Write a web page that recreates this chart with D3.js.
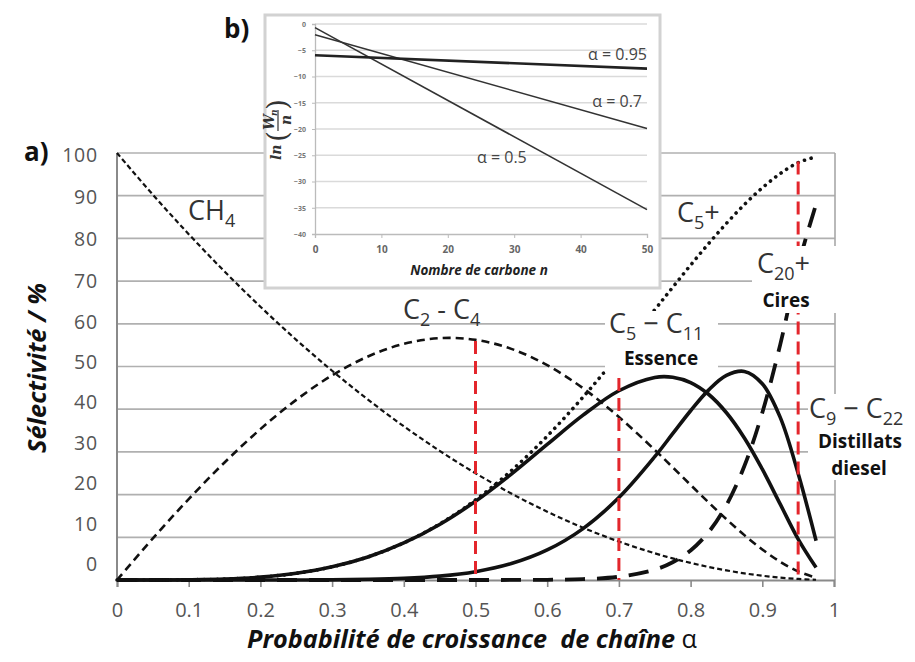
<!DOCTYPE html>
<html><head><meta charset="utf-8">
<script src="https://cdn.jsdelivr.net/npm/d3@7"></script>
<style>
html,body{margin:0;padding:0;background:#fff;}
svg{display:block;font-family:'Open Sans',sans-serif;}
</style></head><body>
<svg id="chart" width="915" height="662"></svg>
<script>
// ---------- data : panel a) selectivity vs chain-growth probability ----------
const alpha   = [0,0.05,0.1,0.15,0.2,0.25,0.3,0.35,0.4,0.45,0.5,0.55,0.6,0.65,0.7,0.75,0.775,0.8,0.825,0.85,0.875,0.9,0.925,0.95,0.975];
const ch4     = [100,90.25,81,72.25,64,56.25,49,42.25,36,30.25,25,20.25,16,12.25,9,6.25,5.06,4,3.06,2.25,1.56,1,0.56,0.25,0.06];
const c2c4    = [0,9.75,18.95,27.53,35.33,42.19,47.92,52.35,55.3,56.63,56.25,54.13,50.3,44.91,38.18,30.47,26.39,22.27,18.18,14.23,10.51,7.15,4.27,2.01,0.53];
const c5plus  = [0,0,0.05,0.22,0.67,1.56,3.08,5.4,8.7,13.12,18.75,25.62,33.7,42.84,52.82,63.28,68.54,73.73,78.75,83.52,87.93,91.85,95.17,97.74,99.1];
const c5c11   = [0,0,0.05,0.22,0.67,1.56,3.08,5.39,8.67,13.01,18.43,24.79,31.74,38.6,44.32,47.44,47.49,46.24,43.5,39.17,33.26,25.95,17.76,9.58,2.9];
const c9c22   = [0,0,0,0,0,0.01,0.04,0.14,0.38,0.91,1.95,3.85,7.04,12.04,19.3,28.87,34.26,39.64,44.47,47.91,48.85,45.97,38.08,24.94,9.2];
const c20plus = [0,0,0,0,0,0,0,0,0,0,0,0.01,0.05,0.21,0.76,2.43,4.16,6.92,11.18,17.56,26.69,39.17,55.13,73.58,88];
const xTicks      = [0,0.1,0.2,0.3,0.4,0.5,0.6,0.7,0.8,0.9,1];
const xTickLabels = ["0","0.1","0.2","0.3","0.4","0.5","0.6","0.7","0.8","0.9","1"];
const yTicks      = [0,10,20,30,40,50,60,70,80,90,100];
const redAlpha = [0.5,0.7,0.95];
const redTop   = [56,52,98];

// ---------- data : panel b) ln(Wn/n) vs carbon number ----------
const nCarbon  = [0,50];
const lnA050   = [-0.69,-35.35];
const lnA070   = [-2.05,-19.89];
const lnA095   = [-5.94,-8.5];
const insetYTicks = [0,-5,-10,-15,-20,-25,-30,-35,-40];
const insetXTicks = [0,10,20,30,40,50];

const svg = d3.select('#chart');

// ---------- main chart ----------
const x = d3.scaleLinear().domain([0,1]).range([117,834]);
const y = d3.scaleLinear().domain([0,100]).range([580,153]);
const yLab = d3.scaleLinear().domain([0,70,100]).range([564.3,281.5,155.5]);

const grid = svg.append('g');
yTicks.filter(t=>t>0).forEach(t=>{
  grid.append('line').attr('x1',x(0)).attr('x2',x(1)+1).attr('y1',y(t)).attr('y2',y(t))
    .attr('stroke','#b0b0b0').attr('stroke-width',1.7);
});
// right frame line
grid.append('line').attr('x1',x(1)+1).attr('x2',x(1)+1).attr('y1',y(100)).attr('y2',y(0))
  .attr('stroke','#a8a8a8').attr('stroke-width',1.6);

// x axis
const xAxis = svg.append('g').attr('transform',`translate(0,${y(0)})`)
  .call(d3.axisBottom(x).tickValues(xTicks).tickSize(7).tickPadding(16)
    .tickFormat((d,i)=>xTickLabels[i]));
xAxis.select('.domain').attr('stroke','#8a8a8a').attr('stroke-width',2);
xAxis.selectAll('.tick line').attr('stroke','#8a8a8a').attr('stroke-width',1.6);
xAxis.selectAll('.tick text').attr('font-family','Open Sans, sans-serif').attr('font-size',20)
  .attr('fill','#555');

// y axis line
svg.append('line').attr('x1',x(0)).attr('x2',x(0)).attr('y1',y(100)).attr('y2',y(0)+1)
  .attr('stroke','#8a8a8a').attr('stroke-width',2);
// y tick labels
const yAxis = svg.append('g').attr('transform','translate(98,0)')
  .call(d3.axisLeft(yLab).tickValues(yTicks).tickSize(0).tickPadding(0));
yAxis.select('.domain').remove();
yAxis.selectAll('.tick text').attr('font-family','Open Sans, sans-serif').attr('font-size',19.5)
  .attr('letter-spacing',0.8).attr('fill','#555');

// curves
const lineGen = vals => d3.line().x((d,i)=>x(alpha[i])).y(d=>y(d)).curve(d3.curveCatmullRom.alpha(0.5))(vals);
const curves = svg.append('g').attr('fill','none').attr('stroke','#111');
curves.append('path').attr('d',lineGen(ch4)).attr('stroke-width',2.2).attr('stroke-dasharray','5,3');
curves.append('path').attr('d',lineGen(c2c4)).attr('stroke-width',2.6).attr('stroke-dasharray','8,5');
curves.append('path').attr('d',lineGen(c20plus)).attr('stroke-width',3.8).attr('stroke-dasharray','20,12');
curves.append('path').attr('d',lineGen(c5c11)).attr('stroke-width',3.6);
curves.append('path').attr('d',lineGen(c9c22)).attr('stroke-width',3.6);
curves.append('path').attr('d',lineGen(c5plus)).attr('stroke-width',3.6)
  .attr('stroke-linecap','round').attr('stroke-dasharray','0.1,6.6');

// red markers
redAlpha.forEach((a,i)=>{
  svg.append('line').attr('x1',x(a)).attr('x2',x(a)).attr('y1',y(redTop[i])).attr('y2',y(0))
    .attr('stroke','#e3262c').attr('stroke-width',3).attr('stroke-dasharray','13,7');
});

// label backgrounds
const boxes = [[752,246,85,67],[605,311,113,62],[808,394,107,86]];
boxes.forEach(b=>svg.append('rect').attr('x',b[0]).attr('y',b[1]).attr('width',b[2]).attr('height',b[3]).attr('fill','#fff'));

// chemical labels
function chem(xp, yb, parts){
  const t = svg.append('text').attr('x',xp).attr('y',yb).attr('font-size',27).attr('fill','#333')
    .style('white-space','pre');
  let sub=false;
  parts.forEach(p=>{
    const isSub = p[1];
    const ts = t.append('tspan').text(p[0]);
    if(isSub && !sub){ ts.attr('dy',7).attr('font-size',18); }
    else if(isSub && sub){ ts.attr('font-size',18); }
    else if(!isSub && sub){ ts.attr('dy',-7); }
    sub = isSub;
  });
}
chem(188,220,[['CH',false],['4',true]]);
chem(403,319,[['C',false],['2',true],[' - C',false],['4',true]]);
chem(677,222,[['C',false],['5',true],['+',false]]);
chem(757,273,[['C',false],['20',true],['+',false]]);
chem(609,333,[['C',false],['5',true],[' − C',false],['11',true]]);
chem(809,418,[['C',false],['9',true],[' − C',false],['22',true]]);

function bold(txt, cx, yb){
  svg.append('text').attr('x',cx).attr('y',yb).attr('text-anchor','middle').attr('font-size',19)
    .attr('font-weight','bold').attr('fill','#111').text(txt);
}
bold('Cires',786,307);
bold('Essence',661,365);
bold('Distillats',860,448);
bold('diesel',859,475);

// axis titles
const xt = svg.append('text').attr('x',247).attr('y',648).attr('font-size',25).attr('font-weight','bold')
  .attr('font-style','italic').attr('fill','#111').style('white-space','pre')
  .attr('textLength',450).attr('lengthAdjust','spacingAndGlyphs');
xt.append('tspan').text('Probabilité de croissance  de chaîne ');
xt.append('tspan').attr('font-weight','normal').attr('font-style','normal').text('α');

svg.append('text').attr('transform','translate(46,368) rotate(-90)').attr('text-anchor','middle')
  .attr('font-size',25).attr('font-weight','bold').attr('font-style','italic').attr('fill','#111')
  .attr('textLength',170).attr('lengthAdjust','spacingAndGlyphs').text('Sélectivité / %');

svg.append('text').attr('x',24).attr('y',161).attr('font-size',26).attr('font-weight','bold').attr('fill','#111').text('a)');
svg.append('text').attr('x',224).attr('y',38).attr('font-size',26).attr('font-weight','bold').attr('fill','#111').text('b)');

// ---------- inset ----------
const ins = svg.append('g');
ins.append('rect').attr('x',265).attr('y',15).attr('width',395).attr('height',273)
  .attr('fill','#fff').attr('stroke','#d2d2d2').attr('stroke-width',3);
const xi = d3.scaleLinear().domain([0,50]).range([315,647]);
const yi = d3.scaleLinear().domain([0,-40]).range([24,234]);
insetYTicks.filter(t=>t>-40).forEach(t=>{
  ins.append('line').attr('x1',xi(0)).attr('x2',xi(50)).attr('y1',yi(t)).attr('y2',yi(t))
    .attr('stroke','#dadada').attr('stroke-width',1.3);
});
const xiAxis = ins.append('g').attr('transform',`translate(0,${yi(-40)})`)
  .call(d3.axisBottom(xi).tickValues(insetXTicks).tickSize(4).tickPadding(8));
xiAxis.select('.domain').attr('stroke','#bbb').attr('stroke-width',1.3);
xiAxis.selectAll('.tick line').attr('stroke','#bbb');
xiAxis.selectAll('.tick text').attr('font-family','Open Sans, sans-serif').attr('font-size',10)
  .attr('font-weight','bold').attr('fill','#666');
const yiAxis = ins.append('g').attr('transform',`translate(${xi(0)},0)`)
  .call(d3.axisLeft(yi).tickValues(insetYTicks).tickSize(3).tickPadding(6));
yiAxis.select('.domain').attr('stroke','#bbb').attr('stroke-width',1.3);
yiAxis.selectAll('.tick line').attr('stroke','#bbb');
yiAxis.selectAll('.tick text').attr('font-family','Open Sans, sans-serif').attr('font-size',7)
  .attr('font-weight','bold').attr('fill','#777');

const il = vals => d3.line().x((d,i)=>xi(nCarbon[i])).y(d=>yi(d))(vals);
ins.append('path').attr('d',il(lnA050)).attr('fill','none').attr('stroke','#333').attr('stroke-width',1.6);
ins.append('path').attr('d',il(lnA070)).attr('fill','none').attr('stroke','#333').attr('stroke-width',1.6);
ins.append('path').attr('d',il(lnA095)).attr('fill','none').attr('stroke','#222').attr('stroke-width',2.6);

ins.append('text').attr('x',647).attr('y',60).attr('text-anchor','end').attr('font-size',16).attr('fill','#444').text('α = 0.95');
ins.append('text').attr('x',642).attr('y',107).attr('text-anchor','end').attr('font-size',16).attr('fill','#444').text('α = 0.7');
ins.append('text').attr('x',477).attr('y',163).attr('font-size',16).attr('fill','#444').text('α = 0.5');

ins.append('text').attr('x',479).attr('y',275).attr('text-anchor','middle').attr('font-size',13.5)
  .attr('font-weight','bold').attr('font-style','italic').attr('fill','#222').text('Nombre de carbone n');

// inset y label ln(Wn/n), rotated
const yl = ins.append('g').attr('transform','translate(279,132) rotate(-90)')
  .attr('font-family','DejaVu Serif, Liberation Serif, serif').attr('font-style','italic')
  .attr('font-weight','bold').attr('fill','#333');
yl.append('text').attr('x',-28).attr('y',2).attr('font-size',14).text('ln');
yl.append('text').attr('x',-10).attr('y',8).attr('font-size',28).attr('font-style','normal').attr('font-weight','normal').text('(');
yl.append('text').attr('x',2).attr('y',-5).attr('font-size',14).text('W');
yl.append('text').attr('x',16).attr('y',-2).attr('font-size',9).text('n');
yl.append('line').attr('x1',1).attr('x2',22).attr('y1',-1).attr('y2',-1).attr('stroke','#333').attr('stroke-width',1.2);
yl.append('text').attr('x',7).attr('y',12).attr('font-size',14).text('n');
yl.append('text').attr('x',22).attr('y',8).attr('font-size',28).attr('font-style','normal').attr('font-weight','normal').text(')');
</script>
</body></html>
